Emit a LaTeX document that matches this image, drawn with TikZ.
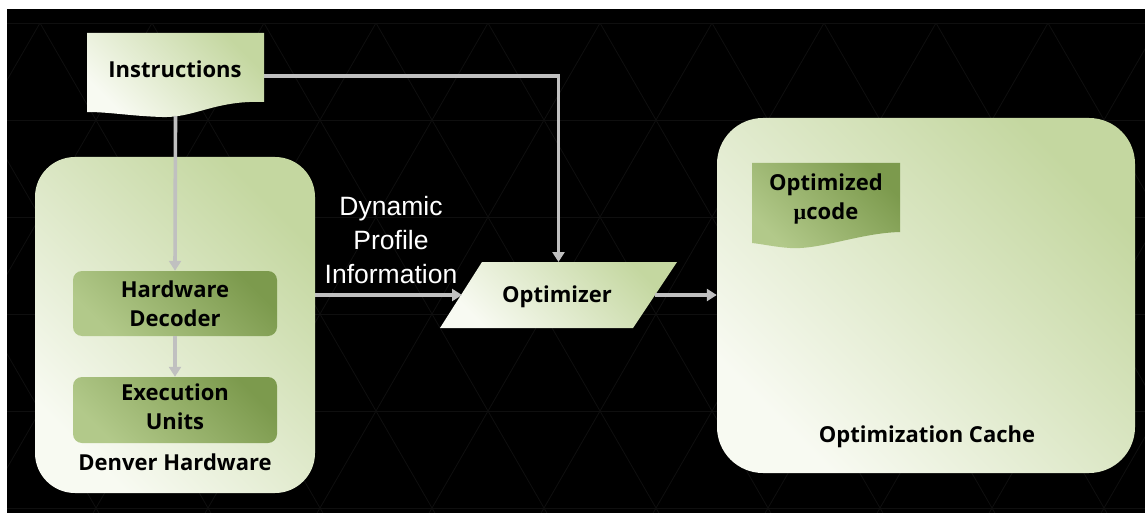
\documentclass[tikz,border=0pt]{standalone}
\usepackage{fontspec}
\setmainfont{Open Sans}
\newfontfamily\arialfont{Liberation Sans}
\newfontfamily\mufont{Liberation Serif}
\usetikzlibrary{arrows.meta}

\definecolor{paleleaf}{HTML}{F8FAF2}
\definecolor{leaf}{HTML}{C4D7A0}
\definecolor{moss}{HTML}{7C9A4D}
\definecolor{mosslight}{HTML}{B2C98A}
\definecolor{wire}{HTML}{C0C0C0}
\definecolor{grid}{HTML}{0F0F0F}

\tikzset{
  lightfill/.style={bottom color=paleleaf, top color=leaf, shading angle=-45},
  darkfill/.style={bottom color=mosslight, top color=moss, shading angle=-45},
  label/.style={font=\fontsize{22}{29}\selectfont\bfseries, text=black, align=center, inner sep=0pt},
  unit/.style={darkfill, rounded corners=9pt, minimum width=204pt, inner sep=0pt},
  group/.style={lightfill, inner sep=0pt},
  flow/.style={draw=wire, line width=3.6pt, -{Triangle[width=12pt,length=10pt]}},
  anchorbox/.style={inner sep=0pt, outer sep=0pt},
}

\begin{document}
\begin{tikzpicture}[x=1pt,y=1pt]
\useasboundingbox (0,0) rectangle (1145,-513);
\fill[white] (0,0) rectangle (1145,-513);
\fill[black] (7,-9) rectangle (1145,-513);

% faint triangular lattice on the backdrop
\begin{scope}
  \clip (7,-9) rectangle (1145,-513);
  \foreach \i in {-6,...,16} {
    \draw[grid, line width=0.8pt] (\i*112+40,-23) -- ++(56*7,-97*7);
    \draw[grid, line width=0.8pt] (\i*112+40,-23) -- ++(-56*7,-97*7);
  }
  \foreach \j in {0,...,5}
    \draw[grid, line width=0.8pt] (7,-23-97*\j) -- (1145,-23-97*\j);
\end{scope}

% containers
\node[group, rounded corners=40pt, minimum width=280pt, minimum height=336pt] (den) at (175,-325) {};
\node[group, rounded corners=46pt, minimum width=418pt, minimum height=355pt] (cache) at (926,-295.5) {};

% instruction stream (document shape)
\path[lightfill] (87,-33) -- (264,-33) -- (264,-102)
  .. controls (215,-100) and (195,-118) .. (162,-117)
  .. controls (130,-116) and (110,-112) .. (87,-112) -- cycle;
\node[anchorbox, minimum width=177pt, minimum height=80pt] (instr) at (175.5,-76) {};

% optimizer (parallelogram)
\path[lightfill] (482,-262) -- (677,-262) -- (633,-328) -- (440,-328) -- cycle;
\node[anchorbox, minimum width=193pt, minimum height=66pt] (opt) at (558.5,-295) {};

% optimized microcode (document shape)
\path[darkfill] (752,-163) -- (900,-163) -- (900,-232)
  .. controls (860,-233) and (820,-250) .. (790,-248)
  .. controls (775,-247) and (762,-244) .. (752,-243) -- cycle;

% hardware units
\node[unit, minimum height=65pt] (hd) at (175,-303.5) {};
\node[unit, minimum height=66pt] (eu) at (175,-410) {};

% connectors
\draw[flow] (instr.south) -- (hd.north);
\draw[flow] (hd.south) -- (eu.north);
\draw[flow] (instr.east) -| (opt.north);
\draw[flow] (den.east |- opt.west) -- (opt.west);
\draw[flow] (opt.east) -- (cache.west |- opt.east);

% labels
\node[label] (instrtext) at (175,-69) {Instructions};
\node[label] (hdtext) at (175,-304) {Hardware\\Decoder};
\node[label] (eutext) at (175,-407) {Execution\\Units};
\node[label] (dentext) at (175,-462) {Denver Hardware};
\node[label] (opttext) at (557,-297) {Optimizer};
\node[label] (codetext) at (826,-199) {Optimized\\{\mufont\textmu}code};
\node[label] (cachetext) at (927,-437) {Optimization Cache};
\node[font=\arialfont\fontsize{26.5}{34}\selectfont, text=white, align=center, inner sep=0pt] (dpi) at (391,-240) {Dynamic\\Profile\\Information};
\end{tikzpicture}
\end{document}
